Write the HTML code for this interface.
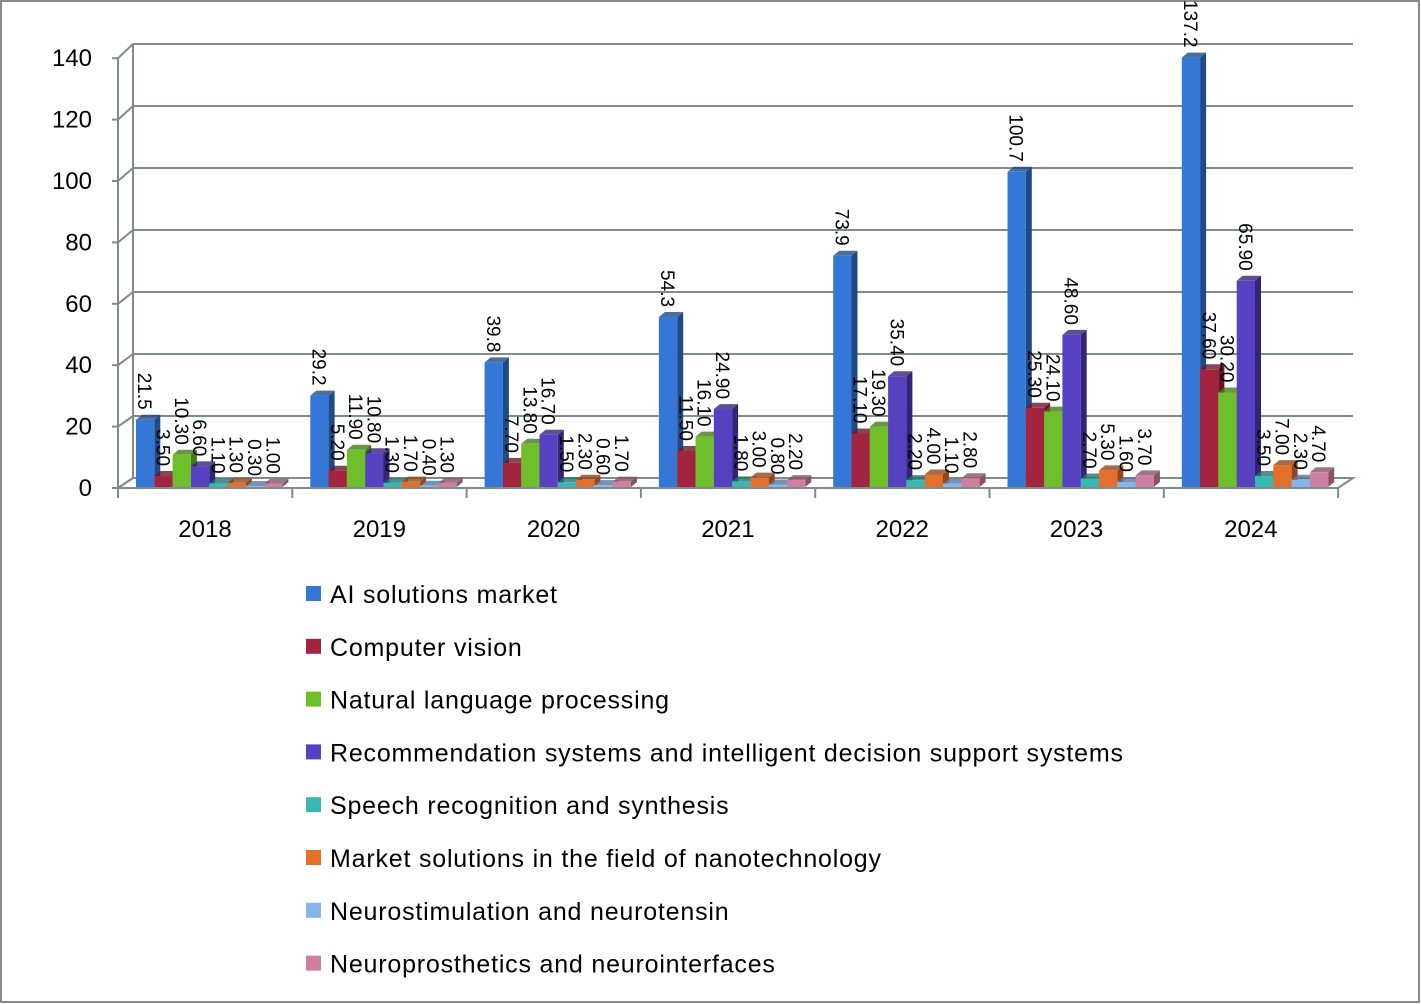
<!DOCTYPE html>
<html><head><meta charset="utf-8"><style>
body{margin:0;background:#fff;font-family:"Liberation Sans",sans-serif}
svg{display:block}
</style></head><body>
<svg id="chart" width="1421" height="1004" viewBox="0 0 1421 1004" xmlns="http://www.w3.org/2000/svg">
<rect x="1" y="1" width="1418" height="1001" fill="#fff" stroke="#8a8a8a" stroke-width="2"/>
<g id="grid"></g><g id="bars"></g><g id="labels"></g><g id="axis"></g><g id="legend"></g>
</svg>
<script>
const years=["2018","2019","2020","2021","2022","2023","2024"];
const seriesNames=["AI solutions market","Computer vision","Natural language processing","Recommendation systems and intelligent decision support systems","Speech recognition and synthesis","Market solutions in the field of nanotechnology","Neurostimulation and neurotensin","Neuroprosthetics and neurointerfaces"];
const aiMarket=[21.5,29.2,39.8,54.3,73.9,100.7,137.2];
const computerVision=[3.5,5.2,7.7,11.5,17.1,25.3,37.6];
const nlp=[10.3,11.9,13.8,16.1,19.3,24.1,30.2];
const recommendation=[6.6,10.8,16.7,24.9,35.4,48.6,65.9];
const speech=[1.1,1.3,1.5,1.8,2.2,2.7,3.5];
const nano=[1.3,1.7,2.3,3.0,4.0,5.3,7.0];
const neurostim=[0.3,0.4,0.6,0.8,1.1,1.6,2.3];
const neuroprost=[1.0,1.3,1.7,2.2,2.8,3.7,4.7];
const aiLabels=["21.5","29.2","39.8","54.3","73.9","100.7","137.2"];
const yTicks=[0,20,40,60,80,100,120,140];
const series=[aiMarket,computerVision,nlp,recommendation,speech,nano,neurostim,neuroprost];
const colors=["#3477d6","#a3243f","#6fbf2a","#5641c0","#38b8b3","#e36f2a","#86b4ec","#cf7fa0"];
const darks=["#1f4a86","#6a1628","#457a18","#332478","#227370","#94451a","#5677a0","#875268"];
const NS="http://www.w3.org/2000/svg";
function el(t,a,p){const e=document.createElementNS(NS,t);for(const k in a)e.setAttribute(k,a[k]);p.appendChild(e);return e;}
const frontY=v=>488-v*3.07, backY=v=>478-v*3.1, barY=v=>487-v*3.13;
const groupX=i=>118+i*174.3;
const g=document.getElementById('grid');
el('line',{x1:133,y1:backY(140),x2:133,y2:478,stroke:"#7f8c8c","stroke-width":2},g);
el('polygon',{points:"118,488 1338,488 1353,478 133,478",fill:"#fff",stroke:"#7f8c8c","stroke-width":2},g);
yTicks.forEach(v=>{
  const gl=el('line',{x1:133,y1:backY(v),x2:1353,y2:backY(v),stroke:"#7f8c8c","stroke-width":2},g);
  
  
  el('line',{x1:118,y1:frontY(v),x2:133,y2:backY(v),stroke:"#7f8c8c","stroke-width":2},g);
});
const ax=document.getElementById('axis');
el('line',{x1:118,y1:frontY(140),x2:118,y2:488,stroke:"#7f8c8c","stroke-width":2},ax);
el('line',{x1:118,y1:488,x2:1338,y2:488,stroke:"#7f8c8c","stroke-width":2},ax);
yTicks.forEach(v=>{
  el('line',{x1:112,y1:frontY(v),x2:118,y2:frontY(v),stroke:"#7f8c8c","stroke-width":2},ax);
  const t=el('text',{x:92,y:frontY(v)+8,"text-anchor":"end","font-size":24,fill:"#000"},ax);
  t.textContent=v;
  
  
});
for(let i=0;i<=years.length;i++) el('line',{x1:groupX(i),y1:488,x2:groupX(i),y2:498,stroke:"#7f8c8c","stroke-width":2},ax);
years.forEach((y,i)=>{
  const t=el('text',{x:groupX(i)+87,y:537,"text-anchor":"middle","font-size":24,fill:"#000"},ax);
  t.textContent=y;
  
  
});
const b=document.getElementById('bars'), lb=document.getElementById('labels');
const bw=18.3, dx=6, dy=5;
years.forEach((y,i)=>{
  series.forEach((s,j)=>{
    const v=s[i], x=groupX(i)+18+j*bw, top=barY(v), bot=487;
    const grp=el('g',{},b);
    
    
    el('polygon',{points:`${x+bw},${top} ${x+bw+dx},${top-dy} ${x+bw+dx},${bot-dy} ${x+bw},${bot}`,fill:darks[j]},grp);
    el('polygon',{points:`${x},${top} ${x+dx},${top-dy} ${x+bw+dx},${top-dy} ${x+bw},${top}`,fill:darks[j],opacity:0.8},grp);
    el('rect',{x:x,y:top,width:bw,height:bot-top,fill:colors[j]},grp);
    const txt=j===0?aiLabels[i]:v.toFixed(2);
    const ly=top-10, lx=x+bw/2-7;
    const t=el('text',{x:0,y:0,"font-size":19,fill:"#000","text-anchor":"end",transform:`translate(${lx},${ly}) rotate(90)`},lb);
    t.textContent=txt;
    
    
  });
});
const lg=document.getElementById('legend');
seriesNames.forEach((n,j)=>{
  const yy=594+j*52.8;
  const grp=el('g',{},lg);
  
  
  el('rect',{x:306,y:yy-8,width:15,height:15,fill:colors[j]},grp);
  const t=el('text',{x:330,y:yy+9,"font-size":25,"letter-spacing":"0.8",fill:"#000"},grp);
  t.textContent=n;
});
</script>
</body></html>
